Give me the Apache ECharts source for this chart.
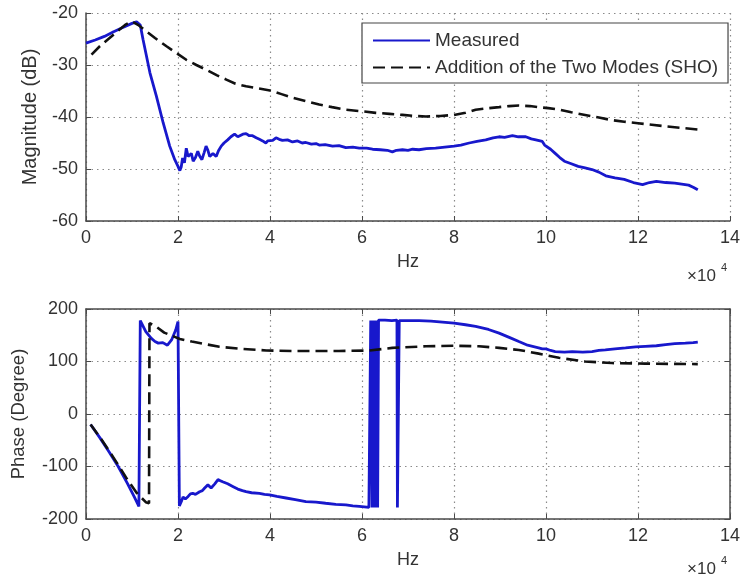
<!DOCTYPE html>
<html>
<head>
<meta charset="utf-8">
<script src="https://cdn.jsdelivr.net/npm/echarts@6/dist/echarts.min.js"></script>
<style>
  html, body { margin: 0; padding: 0; background: #fff; }
  #chart { width: 743px; height: 579px; }
</style>
</head>
<body>
<div id="chart"></div>
<script>
// Frequency in units of 1e4 Hz
const xTicks = [0, 2, 4, 6, 8, 10, 12, 14];
const magTicks = [-60, -50, -40, -30, -20];
const phaseTicks = [-200, -100, 0, 100, 200];

// Magnitude (dB) – measured response
const magMeasHz = [0,0.2,0.4,0.6,0.8,1.0,1.1,1.18,1.24,1.39,1.53,1.68,1.82,1.93,2.0,2.04,2.07,2.1,2.14,2.18,2.22,2.29,2.33,2.38,2.43,2.47,2.52,2.57,2.61,2.65,2.69,2.76,2.83,2.88,2.94,3.0,3.08,3.15,3.23,3.3,3.34,3.41,3.48,3.55,3.62,3.7,3.77,3.84,3.91,3.95,3.99,4.06,4.13,4.2,4.27,4.38,4.49,4.6,4.7,4.78,4.9,5.0,5.07,5.2,5.36,5.5,5.65,5.8,5.94,6.1,6.23,6.4,6.55,6.66,6.75,6.88,7.0,7.1,7.24,7.4,7.6,7.8,8.0,8.15,8.33,8.5,8.69,8.85,8.98,9.1,9.27,9.4,9.56,9.68,9.78,9.92,9.97,10.0,10.1,10.2,10.3,10.4,10.55,10.7,10.85,11.0,11.15,11.3,11.5,11.7,11.9,12.1,12.25,12.4,12.6,12.8,12.95,13.1,13.2,13.3];
const magMeasDb = [-25.8,-25.2,-24.5,-23.6,-22.8,-22.0,-21.7,-22.3,-25.1,-31.5,-36.0,-41.2,-45.6,-48.2,-49.5,-50.3,-49.6,-47.9,-48.8,-46.0,-47.6,-47.0,-48.5,-47.8,-46.6,-47.5,-48.2,-46.8,-45.6,-46.4,-47.6,-47.0,-47.6,-46.5,-45.6,-45.0,-44.4,-43.8,-43.3,-43.8,-43.6,-43.3,-43.2,-43.6,-43.6,-44.0,-44.3,-44.6,-45.0,-44.6,-44.3,-44.5,-44.0,-44.3,-44.5,-44.4,-44.8,-44.6,-45.0,-44.9,-45.2,-45.1,-45.4,-45.3,-45.6,-45.5,-45.9,-45.8,-46.0,-46.0,-46.2,-46.3,-46.4,-46.7,-46.4,-46.3,-46.4,-46.2,-46.3,-46.1,-46.0,-45.8,-45.6,-45.4,-45.0,-44.7,-44.4,-44.0,-43.8,-43.9,-43.6,-43.8,-43.8,-44.2,-44.4,-44.7,-45.4,-45.6,-46.2,-47.0,-47.8,-48.5,-49.0,-49.5,-49.8,-50.1,-50.6,-51.3,-51.7,-52.0,-52.6,-53.0,-52.6,-52.4,-52.6,-52.7,-52.9,-53.1,-53.5,-54.0];

// Magnitude (dB) – sum of the two SHO modes
const magModelHz = [0.12,0.3,0.5,0.7,0.85,0.99,1.15,1.31,1.5,1.75,2.0,2.18,2.4,2.61,2.85,3.05,3.25,3.48,3.75,4.0,4.25,4.49,4.8,5.07,5.35,5.65,6.0,6.3,6.6,6.88,7.15,7.39,7.7,8.0,8.25,8.47,8.75,8.98,9.2,9.41,9.65,9.84,10.05,10.3,10.55,10.85,11.15,11.43,11.7,12.0,12.3,12.6,12.95,13.3];
const magModelDb = [-28.0,-26.4,-24.9,-23.4,-22.3,-21.6,-22.4,-23.5,-24.8,-26.4,-27.9,-29.0,-30.0,-30.9,-32.0,-32.8,-33.6,-34.1,-34.5,-34.9,-35.6,-36.3,-37.0,-37.6,-38.1,-38.6,-38.9,-39.2,-39.4,-39.6,-39.8,-39.9,-39.8,-39.6,-39.2,-38.6,-38.3,-38.1,-37.9,-37.8,-37.9,-38.1,-38.3,-38.6,-39.1,-39.6,-40.1,-40.6,-40.9,-41.2,-41.5,-41.8,-42.1,-42.4];

// Phase (degree) – measured response (wrapped to ±180)
const phMeasHz = [0.1,0.3,0.5,0.7,0.9,1.05,1.15,1.17,1.18,1.3,1.42,1.5,1.57,1.67,1.77,1.86,1.95,2.0,2.02,2.03,2.05,2.08,2.11,2.16,2.22,2.27,2.32,2.38,2.47,2.53,2.58,2.65,2.72,2.8,2.87,2.92,2.97,3.08,3.19,3.3,3.4,3.48,3.6,3.77,3.88,3.99,4.15,4.35,4.55,4.78,5.0,5.21,5.43,5.65,5.8,5.94,6.05,6.15,6.18,6.19,6.22,6.25,6.28,6.31,6.34,6.36,6.5,6.65,6.76,6.77,6.8,6.81,7.0,7.24,7.5,7.75,8.0,8.25,8.47,8.75,8.98,9.2,9.41,9.6,9.84,9.92,10.0,10.1,10.2,10.4,10.57,10.8,11.0,11.15,11.29,11.5,11.73,11.95,12.16,12.4,12.6,12.8,13.03,13.2,13.3];
const phMeasDeg = [-20,-45,-72,-100,-132,-158,-176,-176,178,157,144,138,135,136,131,141,160,176,176,-175,-176,-165,-158,-162,-157,-152,-151,-153,-148,-146,-141,-135,-141,-133,-125,-127,-129,-133,-138,-143,-146,-148,-150,-151,-153,-154,-157,-160,-163,-167,-168,-170,-172,-173,-175,-176,-177,-178,-178,178,-178,178,-178,178,-178,179,179,178,179,-178,-178,178,178,178,177,175,173,170,167,161,154,146,138,131,126,124,124,121,119,118,119,118,119,121,122,124,126,128,129,130,132,134,135,136,137];

// Phase (degree) – sum of the two SHO modes
const phModelHz = [0.1,0.3,0.5,0.7,0.9,1.1,1.3,1.37,1.38,1.5,1.7,2.04,2.3,2.6,2.9,3.4,3.92,4.5,5.0,5.5,6.16,6.66,7.39,8.0,8.54,8.98,9.41,9.84,10.28,10.85,11.43,12.16,13.3];
const phModelDeg = [-20,-44,-70,-97,-125,-150,-168,-170,173,168,155,143,138,133,128,124,121,120,120,120,121,126,129,130,129,126,122,115,107,100,97,96,95];

const seriesNames = ['Measured', 'Addition of the Two Modes (SHO)'];

const zip = (xs, ys) => xs.map((x, i) => [x, ys[i]]);

const FONT = 'Liberation Sans, Arial, sans-serif';
const TEXT = '#333';
const AXIS = '#4a4a4a';
const BLUE = '#1818cc';

function xAxisBottom(gridIndex) {
  return {
    gridIndex, type: 'value', min: 0, max: 14, interval: 2,
    name: 'Hz', nameLocation: 'middle', nameGap: 32,
    nameTextStyle: { fontFamily: FONT, fontSize: 18, color: TEXT },
    axisLine: { show: true, onZero: false, lineStyle: { color: AXIS, width: 1.5 } },
    axisTick: { show: true, inside: true, length: 5, lineStyle: { color: AXIS } },
    axisLabel: { fontFamily: FONT, fontSize: 18, color: TEXT, margin: 8 },
    splitLine: { show: true, lineStyle: { color: '#8a8a8a', type: [1.5, 4], width: 1.2 } }
  };
}
function xAxisTop(gridIndex, box) {
  return {
    gridIndex, type: 'value', position: 'top', min: 0, max: 14, interval: 2,
    axisLine: { show: box, onZero: false, lineStyle: { color: AXIS, width: 1.5 } },
    axisTick: { show: box, inside: true, length: 5, lineStyle: { color: AXIS } },
    axisLabel: { show: false }, splitLine: { show: false }
  };
}
function yAxisLeft(gridIndex, min, max, interval, name, nameGap, nameSize) {
  return {
    gridIndex, type: 'value', min, max, interval,
    name, nameLocation: 'middle', nameGap,
    nameTextStyle: { fontFamily: FONT, fontSize: nameSize, color: TEXT },
    axisLine: { show: true, onZero: false, lineStyle: { color: AXIS, width: 1.5 } },
    axisTick: { show: true, inside: true, length: 5, lineStyle: { color: AXIS } },
    axisLabel: { fontFamily: FONT, fontSize: 18, color: TEXT, margin: 8 },
    splitLine: { show: true, lineStyle: { color: '#8a8a8a', type: [1.5, 4], width: 1.2 } }
  };
}
function yAxisRight(gridIndex, min, max, interval, box) {
  return {
    gridIndex, type: 'value', position: 'right', min, max, interval,
    axisLine: { show: box, onZero: false, lineStyle: { color: AXIS, width: 1.5 } },
    axisTick: { show: box, inside: true, length: 5, lineStyle: { color: AXIS } },
    axisLabel: { show: false }, splitLine: { show: false }
  };
}

function measuredSeries(data, xi, yi) {
  return {
    name: seriesNames[0], type: 'line', xAxisIndex: xi, yAxisIndex: yi,
    data, symbol: 'none', showSymbol: false, z: 3,
    lineStyle: { color: BLUE, width: 2.8, join: 'bevel' }, itemStyle: { color: BLUE }
  };
}
function modelSeries(data, xi, yi) {
  return {
    name: seriesNames[1], type: 'line', xAxisIndex: xi, yAxisIndex: yi,
    data, symbol: 'none', showSymbol: false, z: 4,
    lineStyle: { color: '#111', width: 2.6, type: [12, 6] }, itemStyle: { color: '#111' }
  };
}

const chart = echarts.init(document.getElementById('chart'), null, { renderer: 'canvas' });
chart.setOption({
  backgroundColor: '#fff',
  animation: false,
  grid: [
    { left: 86, top: 13, width: 646, height: 208 },
    { left: 86, top: 309, width: 646, height: 210 }
  ],
  xAxis: [xAxisBottom(0), xAxisTop(0, false), xAxisBottom(1), xAxisTop(1, true)],
  yAxis: [
    yAxisLeft(0, -60, -20, 10, 'Magnitude (dB)', 46, 20),
    yAxisRight(0, -60, -20, 10, false),
    yAxisLeft(1, -200, 200, 100, 'Phase (Degree)', 58, 18.5),
    yAxisRight(1, -200, 200, 100, true)
  ],
  legend: {
    orient: 'vertical', left: 362, top: 23,
    data: seriesNames,
    itemWidth: 57, itemHeight: 14, itemGap: 8,
    padding: [8, 10, 6, 10],
    backgroundColor: '#fff', borderColor: '#444', borderWidth: 1.2,
    itemStyle: { opacity: 0 },
    textStyle: { fontFamily: FONT, fontSize: 19, color: TEXT }
  },
  graphic: [
    { type: 'text', left: 687, top: 268, style: { text: '×10', fontFamily: FONT, fontSize: 17, fill: TEXT } },
    { type: 'text', left: 721, top: 262, style: { text: '4', fontFamily: FONT, fontSize: 11, fill: TEXT } },
    { type: 'text', left: 687, top: 561, style: { text: '×10', fontFamily: FONT, fontSize: 17, fill: TEXT } },
    { type: 'text', left: 721, top: 555, style: { text: '4', fontFamily: FONT, fontSize: 11, fill: TEXT } }
  ],
  series: [
    measuredSeries(zip(magMeasHz, magMeasDb), 0, 0),
    modelSeries(zip(magModelHz, magModelDb), 0, 0),
    measuredSeries(zip(phMeasHz, phMeasDeg), 2, 2),
    modelSeries(zip(phModelHz, phModelDeg), 2, 2)
  ]
});
</script>
</body>
</html>
